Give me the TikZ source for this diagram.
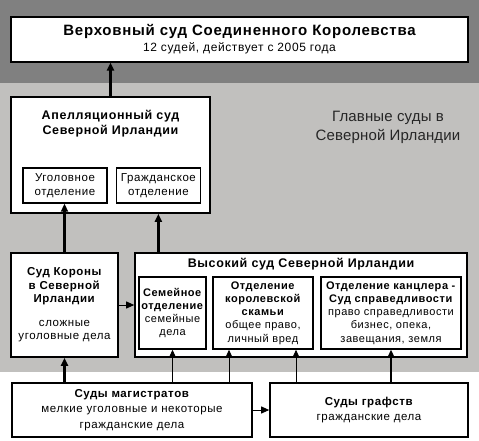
\documentclass[tikz,border=0pt]{standalone}
\usepackage{fontspec}
\setmainfont{Liberation Sans}[LetterSpace=5]
\newfontfamily\plainsans{Liberation Sans}[LetterSpace=1]
\usepackage{xcolor}
\usepackage{tikz}
\usetikzlibrary{arrows.meta,positioning}

\definecolor{banddark}{HTML}{808080}
\definecolor{bandlight}{HTML}{C1C0BE}

\begin{document}
\begin{tikzpicture}[
		x=1pt, y=-1pt,
		courtbox/.style={
			rectangle,
			draw=black,
			fill=white,
			line width=1.6pt,
			inner sep=0pt,
			align=center,
			font=\fontsize{11.5}{13.5}\selectfont
		},
		deptbox/.style={
			courtbox,
			line width=1.4pt,
			font=\fontsize{11}{13.2}\selectfont
		},
		heading/.style={
			align=center,
			inner sep=0pt,
			font=\fontsize{12.5}{15}\selectfont\bfseries
		},
		arrow/.style={
			-{Triangle[length=8pt,width=7pt]},
			draw=black,
			line width=0.9pt
		},
		thickarrow/.style={
			arrow,
			line width=2.4pt
		}
		]
		
		% background bands
		\useasboundingbox (0,0) rectangle (479,440);
		\fill[banddark] (0,0) rectangle (479,83);
		\fill[bandlight] (0,83) rectangle (479,372);
		
		\node[courtbox, line width=1.3pt, minimum width=457pt, minimum height=45pt] (supreme) at (239.5,39.5)
		{{\fontsize{15}{17}\selectfont\bfseries Верховный суд Соединенного Королевства}\\[2.5pt]
			{\fontsize{12}{14}\selectfont 12 судей, действует с 2005 года}};
		
		\node[align=center, inner sep=0pt, text=black!85, font=\plainsans\fontsize{15}{19}\selectfont] (mainlabel) at (388,127)
		{Главные суды в\\Северной Ирландии};
		
		% appeal court
		\node[courtbox, minimum width=199pt, minimum height=116pt] (appeal) at (110.5,155) {};
		\node[heading, below=14pt of appeal.north] (appealtitle)
		{Апелляционный суд\\Северной Ирландии};
		\node[deptbox, font=\fontsize{11.5}{13.5}\selectfont, minimum width=84pt, minimum height=35pt] (crim) at (65,185.5)
		{Уголовное\\отделение};
		\node[deptbox, font=\fontsize{11.5}{13.5}\selectfont, minimum width=84pt, minimum height=35pt, right=8pt of crim] (civ)
		{Гражданское\\отделение};
		
		% crown court
		\node[courtbox, minimum width=107pt, minimum height=104pt] (crown) at (64.5,305)
		{\textbf{Суд Короны}\\\textbf{в Северной}\\\textbf{Ирландии}\\[10pt]сложные\\уголовные дела};
		
		% high court
		\node[courtbox, minimum width=332pt, minimum height=104pt] (high) at (301,305) {};
		\node[heading, below=6pt of high.north] (hightitle)
		{Высокий суд Северной Ирландии};
		\node[deptbox, minimum width=67pt, minimum height=72pt] (family) at (172.5,313)
		{\textbf{Семейное}\\\textbf{отделение}\\семейные\\дела};
		\node[deptbox, minimum width=100pt, minimum height=72pt] (bench) at (263,313)
		{\textbf{Отделение}\\\textbf{королевской}\\\textbf{скамьи}\\общее право,\\личный вред};
		\node[deptbox, minimum width=140pt, minimum height=72pt] (chancery) at (391,313)
		{\textbf{Отделение канцлера -}\\\textbf{Суд справедливости}\\право справедливости\\бизнес, опека,\\завещания, земля};
		
		% lower courts
		\node[courtbox, minimum width=240pt, minimum height=54pt, font=\fontsize{11.5}{15.5}\selectfont] (magistrates) at (132,410)
		{\textbf{Суды магистратов}\\мелкие уголовные и некоторые\\гражданские дела};
		\node[courtbox, minimum width=198pt, minimum height=54pt, font=\fontsize{11.5}{15.5}\selectfont] (county) at (369,410)
		{\textbf{Суды графств}\\гражданские дела};
		
		\draw[thickarrow] (appeal.north) -- (appeal.north |- supreme.south);
		\draw[thickarrow] (crown.north) -- (crown.north |- crim.south);
		\draw[thickarrow] (civ.south |- high.north) -- (civ.south |- appeal.south);
		\draw[arrow] (crown.east) -- (crown.east -| high.west);
		\draw[thickarrow] (crown.south |- magistrates.north) -- (crown.south);
		\draw[arrow] (family.south |- magistrates.north) -- (family.south);
		\draw[arrow] ([xshift=-34pt]bench.south |- magistrates.north) -- ([xshift=-34pt]bench.south);
		\draw[arrow] ([xshift=33pt]bench.south |- county.north) -- ([xshift=33pt]bench.south);
		\draw[thickarrow] (chancery.south |- county.north) -- (chancery.south);
		\draw[arrow] (magistrates.east) -- (county.west);
		
	\end{tikzpicture}
\end{document}
